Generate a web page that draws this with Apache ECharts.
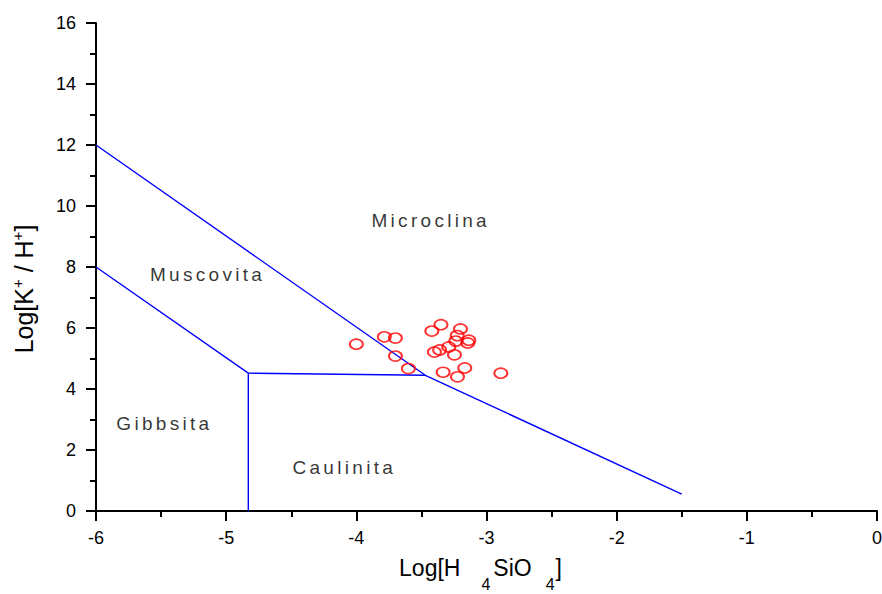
<!DOCTYPE html>
<html>
<head>
<meta charset="utf-8">
<script src="https://cdn.jsdelivr.net/npm/echarts@6/dist/echarts.min.js"></script>
<style>
  html, body { margin: 0; padding: 0; background: #ffffff; overflow: hidden; }
  #chart { width: 882px; height: 594px; }
</style>
</head>
<body>
<div id="chart"></div>
<script>
// Stability field boundaries (Log[H4SiO4], Log[K+/H+])
const microclineBoundary = [[-6, 12], [-3.47, 4.45], [-1.5, 0.55]];
const gibbsiteBoundary = [[-6, 8], [-4.83, 4.52], [-4.83, 0]];
const muscoviteKaoliniteBoundary = [[-4.83, 4.52], [-3.47, 4.45]];

// Water samples
const logSilica = [-4.00, -3.785, -3.70, -3.70, -3.60, -3.42, -3.35, -3.20, -3.225, -3.136,
                   -3.144, -3.236, -3.29, -3.36, -3.40, -3.246, -3.333, -3.167, -3.223, -2.89];
const logKH = [5.47, 5.71, 5.67, 5.08, 4.67, 5.90, 6.11, 5.97, 5.75, 5.60,
               5.51, 5.57, 5.38, 5.28, 5.21, 5.12, 4.55, 4.69, 4.40, 4.52];

// Mineral field names and where they are written
const fieldNames = ['Microclina', 'Muscovita', 'Gibbsita', 'Caulinita'];
const fieldX = [-3.444, -5.158, -5.49, -4.108];
const fieldY = [9.52, 7.74, 2.885, 1.44];

const chart = echarts.init(document.getElementById('chart'), null, { renderer: 'svg' });

const font = 'Arial, "Liberation Sans", sans-serif';
const boundaryStyle = { color: '#0000ff', width: 1.4 };

function boundarySeries(points) {
  return {
    type: 'line',
    data: points,
    symbol: 'none',
    silent: true,
    animation: false,
    lineStyle: boundaryStyle,
    z: 2
  };
}

const axisCommon = {
  type: 'value',
  axisLine: { show: true, onZero: false, lineStyle: { color: '#000', width: 2 } },
  axisTick: { show: true, inside: false, length: 10, lineStyle: { color: '#000', width: 2 } },
  minorTick: { show: true, splitNumber: 2, length: 6, lineStyle: { color: '#000', width: 2 } },
  splitLine: { show: false },
  minorSplitLine: { show: false },
  axisLabel: { color: '#000', fontSize: 18, fontFamily: font }
};

chart.setOption({
  backgroundColor: '#ffffff',
  animation: false,
  grid: { left: 96, right: 5, top: 23, bottom: 83, containLabel: false, outerBoundsMode: 'none' },
  xAxis: Object.assign({}, axisCommon, {
    min: -6, max: 0, interval: 1,
    axisLabel: Object.assign({}, axisCommon.axisLabel, { margin: 18 }),
    name: 'Log[H{s1|4}SiO{s2|4}]',
    nameLocation: 'middle',
    nameGap: 45,
    nameTextStyle: {
      color: '#000', fontSize: 23, fontFamily: font,
      padding: [0, 12, 0, 0],
      rich: {
        s1: { fontSize: 16, fontFamily: font, color: '#000', lineHeight: 14, padding: [20, 3, 0, 21], verticalAlign: 'top' },
        s2: { fontSize: 16, fontFamily: font, color: '#000', lineHeight: 14, padding: [20, 1, 0, 14], verticalAlign: 'top' }
      }
    }
  }),
  yAxis: Object.assign({}, axisCommon, {
    min: 0, max: 16, interval: 2,
    axisLabel: Object.assign({}, axisCommon.axisLabel, { margin: 20 }),
    name: 'Log[K{sup|+} / H{sup|+}]',
    nameLocation: 'middle',
    nameRotate: 90,
    nameGap: 59,
    nameTextStyle: {
      color: '#000', fontSize: 25, fontFamily: font, lineHeight: 27,
      padding: [0, 44, 0, 0],
      rich: {
        sup: { fontSize: 15, fontFamily: font, color: '#000', lineHeight: 12, verticalAlign: 'top' }
      }
    }
  }),
  series: [
    boundarySeries(microclineBoundary),
    boundarySeries(gibbsiteBoundary),
    boundarySeries(muscoviteKaoliniteBoundary),
    {
      type: 'scatter',
      data: logSilica.map((x, i) => [x, logKH[i]]),
      symbol: 'circle',
      symbolSize: [13, 10],
      itemStyle: { color: 'rgba(255,255,255,0)', borderColor: '#ff0000', borderWidth: 1.8 },
      z: 3
    },
    {
      type: 'scatter',
      data: fieldNames.map((n, i) => ({ name: n, value: [fieldX[i], fieldY[i]] })),
      symbolSize: 0,
      silent: true,
      label: {
        show: true,
        position: 'inside',
        offset: [2, 0],
        formatter: '{b}',
        color: '#000',
        fontSize: 19,
        fontFamily: font
      },
      z: 4
    }
  ]
});

// Field names are typeset with wide tracking
document.querySelectorAll('#chart text').forEach(function (t) {
  if (fieldNames.indexOf(t.textContent) >= 0) {
    t.style.letterSpacing = '3.3px';
  }
});
</script>
</body>
</html>
